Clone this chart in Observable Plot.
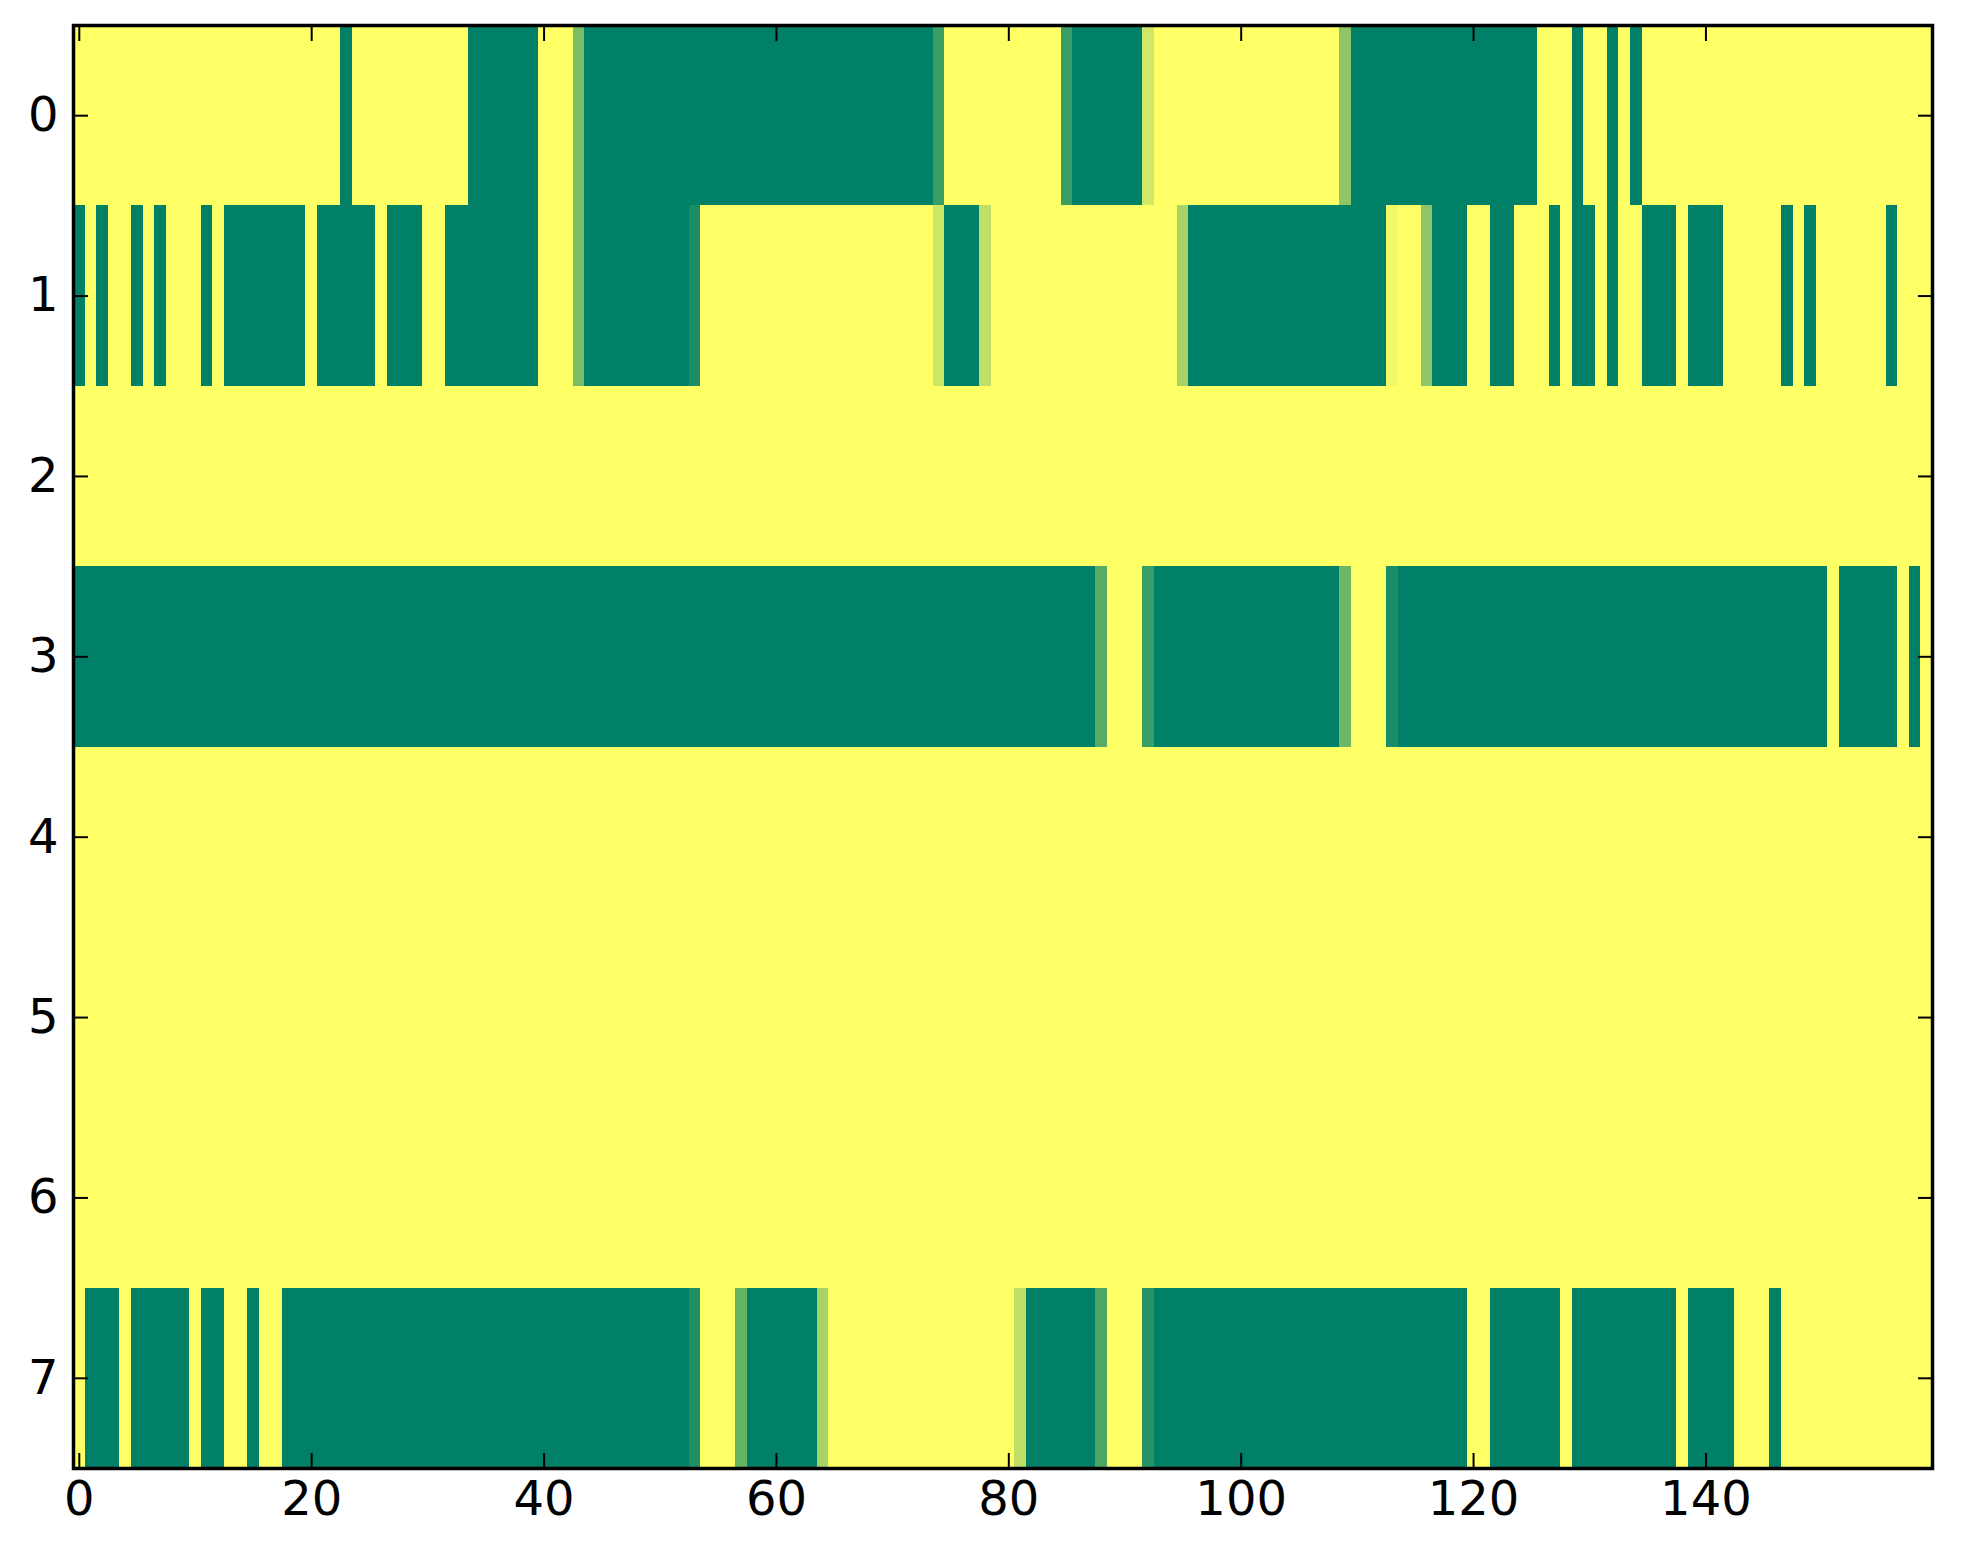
<!DOCTYPE html>
<html>
<head>
<meta charset="utf-8">
<script src="https://cdn.jsdelivr.net/npm/d3@7"></script>
<script src="https://cdn.jsdelivr.net/npm/@observablehq/plot@0.6"></script>
<style>
  body { margin: 0; background: white; }
</style>
</head>
<body>
<div id="chart"></div>
<script>
// each row of the image: runs of [value, number of columns], 160 columns per row
const row0 = [[1,23],[0,1],[1,10],[0,6],[1,3],[0.48,1],[0,30],[0.23,1],[1,10],[0.23,1],[0,6],[0.82,1],[1,16],[0.55,1],[0,16],[1,3],[0,1],[1,2],[0,1],[1,1],[0,1],[1,25]];
const row1 = [[0,1],[1,1],[0,1],[1,2],[0,1],[1,1],[0,1],[1,3],[0,1],[1,1],[0,7],[1,1],[0,5],[1,1],[0,3],[1,2],[0,8],[1,3],[0.48,1],[0,9],[0.1,1],[1,20],[0.8,1],[0,3],[0.75,1],[1,16],[0.66,1],[0,17],[0.95,1],[1,2],[0.55,1],[0,3],[1,2],[0,2],[1,3],[0,1],[1,1],[0,2],[1,1],[0,1],[1,2],[0,3],[1,1],[0,3],[1,5],[0,1],[1,1],[0,1],[1,6],[0,1],[1,3]];
const row2 = [[1,160]];
const row3 = [[0,88],[0.35,1],[1,3],[0.23,1],[0,16],[0.43,1],[1,3],[0.1,1],[0,37],[1,1],[0,5],[1,1],[0,1],[1,1]];
const row4 = [[1,160]];
const row5 = [[1,160]];
const row6 = [[1,160]];
const row7 = [[1,1],[0,3],[1,1],[0,5],[1,1],[0,2],[1,2],[0,1],[1,2],[0,35],[0.12,1],[1,3],[0.4,1],[0,6],[0.66,1],[1,16],[0.75,1],[0,6],[0.3,1],[1,3],[0.15,1],[0,27],[1,2],[0,6],[1,1],[0,9],[1,1],[0,4],[1,3],[0,1],[1,13]];

const rows = [row0, row1, row2, row3, row4, row5, row6, row7];
const xTicks = [0, 20, 40, 60, 80, 100, 120, 140];
const yTicks = [0, 1, 2, 3, 4, 5, 6, 7];

const cells = rows.flatMap((runs, r) => {
  let start = 0;
  return runs.map(([v, n]) => {
    const d = {row: r, x1: start - 0.5, x2: start + n - 0.5, v};
    start += n;
    return d;
  });
});

const chart = Plot.plot({
  width: 1963,
  height: 1564,
  marginLeft: 73,
  marginRight: 31,
  marginTop: 25,
  marginBottom: 96,
  style: {background: "white", fontFamily: "DejaVu Sans", color: "black"},
  x: {domain: [-0.5, 159.5]},
  y: {domain: [-0.5, 7.5], reverse: true},
  color: {type: "linear", domain: [0, 1], range: ["#008066", "#ffff66"], interpolate: "rgb"},
  marks: [
    Plot.rect(cells, {
      x1: "x1", x2: "x2",
      y1: (d) => d.row - 0.5, y2: (d) => d.row + 0.5,
      fill: "v", shapeRendering: "crispEdges"
    }),
    Plot.axisX({anchor: "bottom", ticks: xTicks, tickSize: -15, tickPadding: 27, fontSize: 48, label: null, strokeWidth: 2}),
    Plot.axisX({anchor: "top", ticks: xTicks, tickSize: -15, tickFormat: () => "", label: null, strokeWidth: 2}),
    Plot.axisY({anchor: "left", ticks: yTicks, tickSize: -15, tickPadding: 30, fontSize: 48, label: null, strokeWidth: 2}),
    Plot.axisY({anchor: "right", ticks: yTicks, tickSize: -15, tickFormat: () => "", label: null, strokeWidth: 2}),
    Plot.frame({stroke: "black", strokeWidth: 3.5})
  ]
});

d3.select("#chart").append(() => chart);
</script>
</body>
</html>
